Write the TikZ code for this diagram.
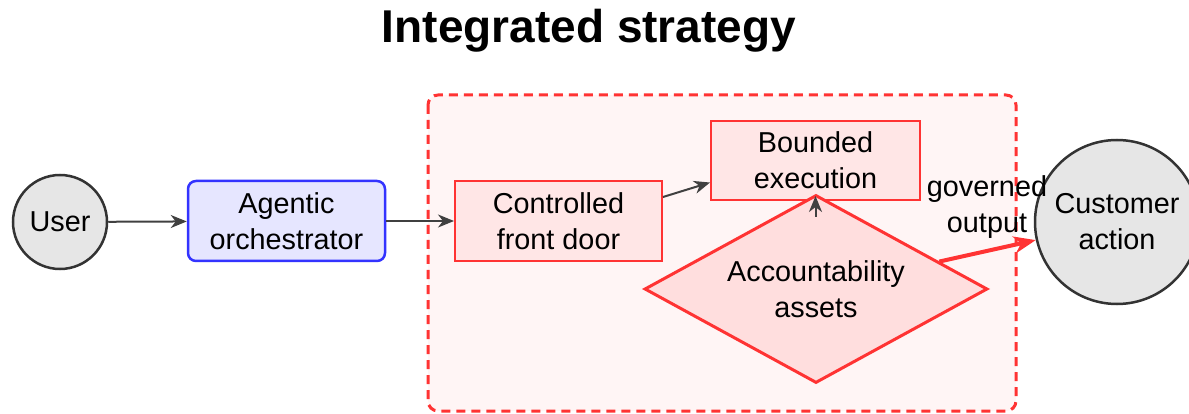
\documentclass[tikz,border=0pt]{standalone}
\usepackage{fontspec}
\setmainfont{Liberation Sans}
\usetikzlibrary{shapes.geometric,arrows.meta}
\definecolor{redline}{HTML}{FF3333}
\definecolor{redfill}{HTML}{FFE6E6}
\definecolor{diafill}{HTML}{FFDEDE}
\definecolor{clusterfill}{HTML}{FFF5F5}
\definecolor{blueline}{HTML}{3333FF}
\definecolor{bluefill}{HTML}{E6E6FF}
\definecolor{greyfill}{HTML}{E6E6E6}
\definecolor{greyline}{HTML}{333333}
\definecolor{arrowgrey}{HTML}{404040}
\tikzset{
  basefont/.style={font=\fontsize{28.8}{36}\selectfont},
  circnode/.style={circle, draw=greyline, fill=greyfill, line width=2.5pt, inner sep=0pt, align=center, basefont},
  agentbox/.style={rectangle, rounded corners=8pt, draw=blueline, fill=bluefill, line width=2.5pt, inner sep=0pt, align=center, basefont},
  redbox/.style={rectangle, draw=redline, fill=redfill, line width=2pt, inner sep=0pt, align=center, basefont},
  diabox/.style={diamond, shape aspect=1.8, draw=redline, fill=diafill, line width=3pt, inner sep=0pt, align=center, basefont},
  cluster/.style={draw=redline, fill=clusterfill, line width=3pt, dash pattern=on 9pt off 6pt, rounded corners=10pt},
  garrow/.style={draw=arrowgrey, line width=2pt, -{Stealth[length=16pt,width=13pt,inset=5pt]}},
  rarrow/.style={draw=redline, line width=4pt, -{Stealth[length=22pt,width=17pt,inset=7pt]}},
  titlestyle/.style={font=\fontsize{46}{50}\selectfont\bfseries},
  lblstyle/.style={align=center, inner sep=0pt, basefont}
}
\begin{document}
\begin{tikzpicture}[x=1pt,y=-1pt]
\useasboundingbox (0,0) rectangle (1189,414);
\node[titlestyle] (title) at (589,31) {Integrated strategy};
\draw[cluster] (428,95) rectangle (1016,411);
\node[circnode, minimum size=94pt] (user) at (60,222) {User};
\node[agentbox, minimum width=197pt, minimum height=80pt] (agent) at (286.5,221) {Agentic\\orchestrator};
\node[redbox, minimum width=207pt, minimum height=80pt] (front) at (558.5,221) {Controlled\\front door};
\node[redbox, minimum width=209pt, minimum height=79pt] (bound) at (815.5,160.5) {Bounded\\execution};
\node[diabox, minimum width=343pt, minimum height=188pt] (acc) at (816,289) {Accountability\\assets};
\node[circnode, minimum size=164pt] (cust) at (1117,222) {Customer\\action};
\draw[garrow] (user) -- (agent);
\draw[garrow] (agent) -- (front);
\draw[garrow] ([yshift=24pt]front.east) -- ([yshift=-22pt]bound.west);
\draw[garrow] ([yshift=-16pt]bound.south) -- ([yshift=5pt]bound.south);
\draw[rarrow] (acc) -- (cust);
\node[lblstyle] (lbl) at (987,207) {governed\\output};
\end{tikzpicture}
\end{document}
